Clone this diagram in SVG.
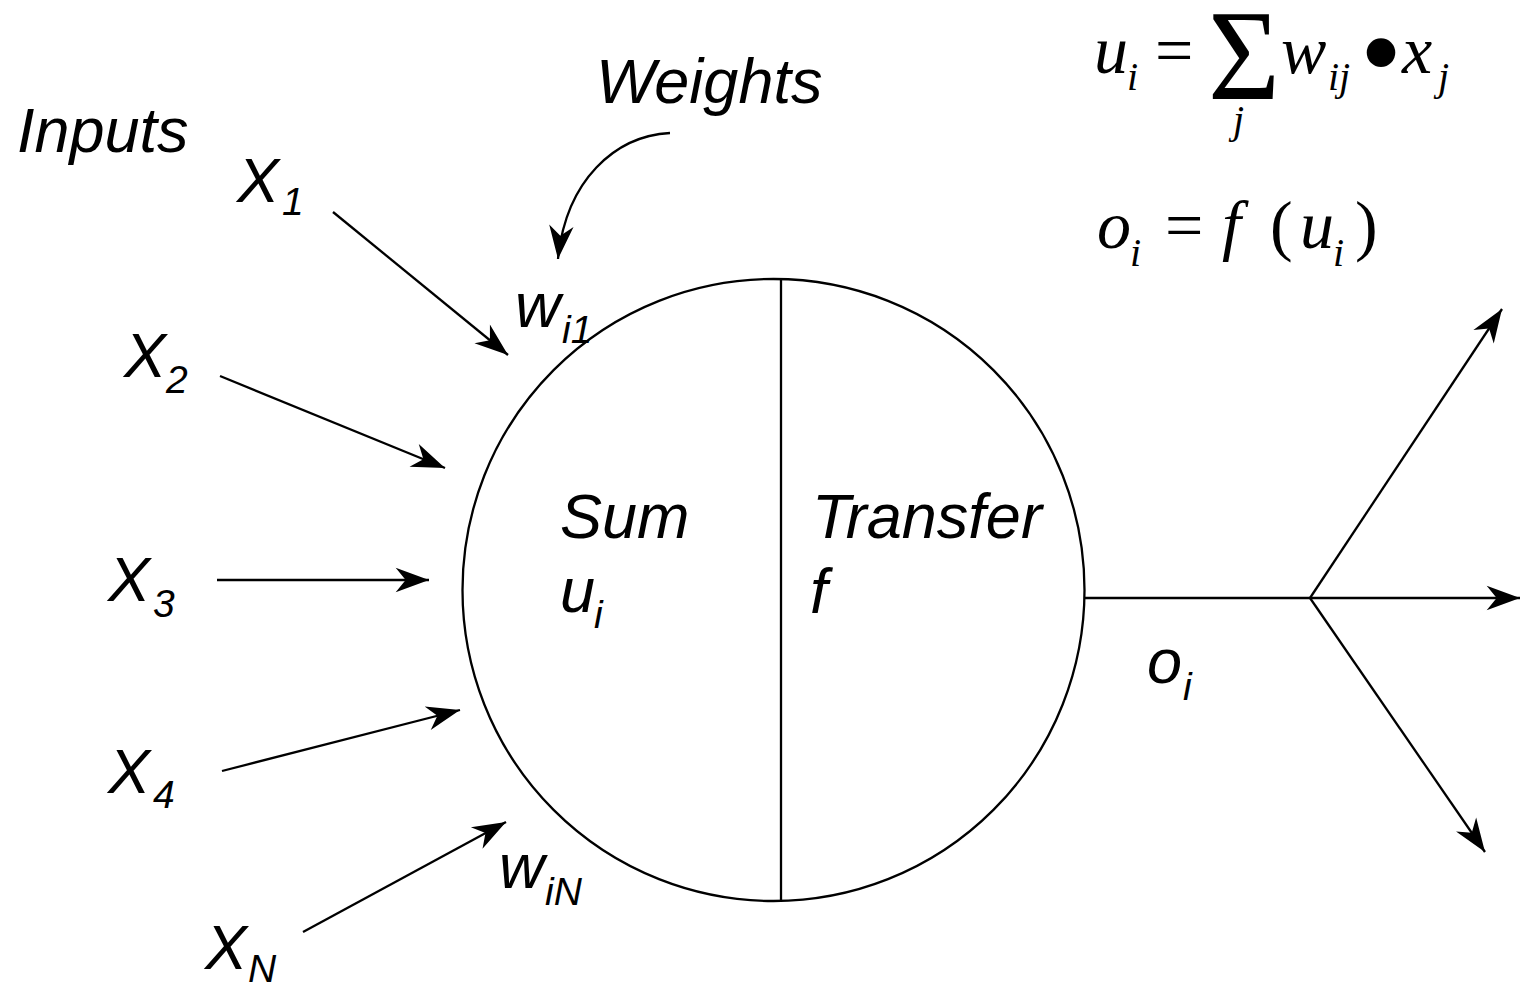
<svg xmlns="http://www.w3.org/2000/svg" width="1521" height="983" viewBox="0 0 1521 983">
<style>
.lbl{font-family:"Liberation Sans",Arial,sans-serif;font-style:italic;font-size:63px;fill:#000}
.sub{font-family:"Liberation Sans",Arial,sans-serif;font-style:italic;font-size:39px;fill:#000}
.m{font-family:"Liberation Serif","Times New Roman",serif;font-style:italic;font-size:68px;fill:#000}
.mn{font-family:"Liberation Serif","Times New Roman",serif;font-size:68px;fill:#000}
.ms{font-family:"Liberation Serif","Times New Roman",serif;font-style:italic;font-size:40px;fill:#000}
.ln{fill:none;stroke:#000;stroke-width:2.3}
</style>
<defs>
<marker id="ah" markerUnits="userSpaceOnUse" markerWidth="40" markerHeight="40" viewBox="-32 -16 36 32" refX="0" refY="0" orient="auto">
<path d="M0,0 L-30,-11 L-21,0 L-30,11 Z" fill="#000"/>
</marker>
</defs>
<g id="neuron">
<circle cx="773.5" cy="590" r="311" class="ln"/>
<line x1="781" y1="279" x2="781" y2="901" class="ln"/>
<text class="lbl" x="560" y="538">Sum</text>
<text class="lbl" x="560" y="612">u</text><text class="sub" x="594" y="628">i</text>
<text class="lbl" x="812" y="538">Transfer</text>
<text class="lbl" x="810" y="613">f</text>
</g>
<g id="labels">
<text class="lbl" x="17" y="152">Inputs</text>
<text class="lbl" x="596" y="103">Weights</text>
<text class="lbl" x="515" y="327">w</text><text class="sub" x="562" y="343">i1</text>
<text class="lbl" x="499" y="888">w</text><text class="sub" x="545" y="905">iN</text>
<text class="lbl" x="1147" y="683">o</text><text class="sub" x="1183" y="700">i</text>
</g>
<g id="inputs">
<g id="x1"><text class="lbl" x="237" y="202">X</text><text class="sub" x="282" y="215">1</text></g>
<g id="x2"><text class="lbl" x="124" y="377">X</text><text class="sub" x="166" y="393">2</text></g>
<g id="x3"><text class="lbl" x="108" y="601">X</text><text class="sub" x="153" y="617">3</text></g>
<g id="x4"><text class="lbl" x="108" y="793">X</text><text class="sub" x="153" y="808">4</text></g>
<g id="xn"><text class="lbl" x="205" y="969">X</text><text class="sub" x="248" y="982">N</text></g>
</g>
<g id="formula">
<text class="m" x="1094" y="73">u</text><text class="ms" x="1127" y="90">i</text>
<text class="mn" x="1155" y="73">=</text>
<text class="mn" x="1208" y="99" style="font-size:130px" textLength="72" lengthAdjust="spacingAndGlyphs">Σ</text>
<text class="ms" x="1233" y="133">j</text>
<text class="m" x="1281" y="73">w</text><text class="ms" x="1328" y="90">ij</text>
<text class="mn" x="1360" y="93" style="font-size:120px">•</text>
<text class="m" x="1402" y="73">x</text><text class="ms" x="1438" y="90">j</text>
<text class="m" x="1097" y="248">o</text><text class="ms" x="1130" y="266">i</text>
<text class="mn" x="1165" y="248">=</text>
<text class="m" x="1222" y="248">f</text>
<text class="mn" x="1270" y="248">(</text>
<text class="m" x="1300" y="248">u</text><text class="ms" x="1333" y="266">i</text>
<text class="mn" x="1355" y="248">)</text>
</g>
<g id="connectors">
<line x1="333" y1="212" x2="508" y2="355" class="ln" marker-end="url(#ah)"/>
<line x1="220" y1="376" x2="445" y2="468" class="ln" marker-end="url(#ah)"/>
<line x1="217" y1="580" x2="429" y2="580" class="ln" marker-end="url(#ah)"/>
<line x1="222" y1="771" x2="460" y2="710" class="ln" marker-end="url(#ah)"/>
<line x1="303" y1="932" x2="506" y2="822" class="ln" marker-end="url(#ah)"/>
<path d="M670,133 C615,136 566,180 558,259" class="ln" marker-end="url(#ah)"/>
<line x1="1085" y1="598" x2="1310" y2="598" class="ln"/>
<line x1="1310" y1="598" x2="1502" y2="309" class="ln" marker-end="url(#ah)"/>
<line x1="1310" y1="598" x2="1520" y2="598" class="ln" marker-end="url(#ah)"/>
<line x1="1310" y1="598" x2="1485" y2="852" class="ln" marker-end="url(#ah)"/>
</g>
</svg>
